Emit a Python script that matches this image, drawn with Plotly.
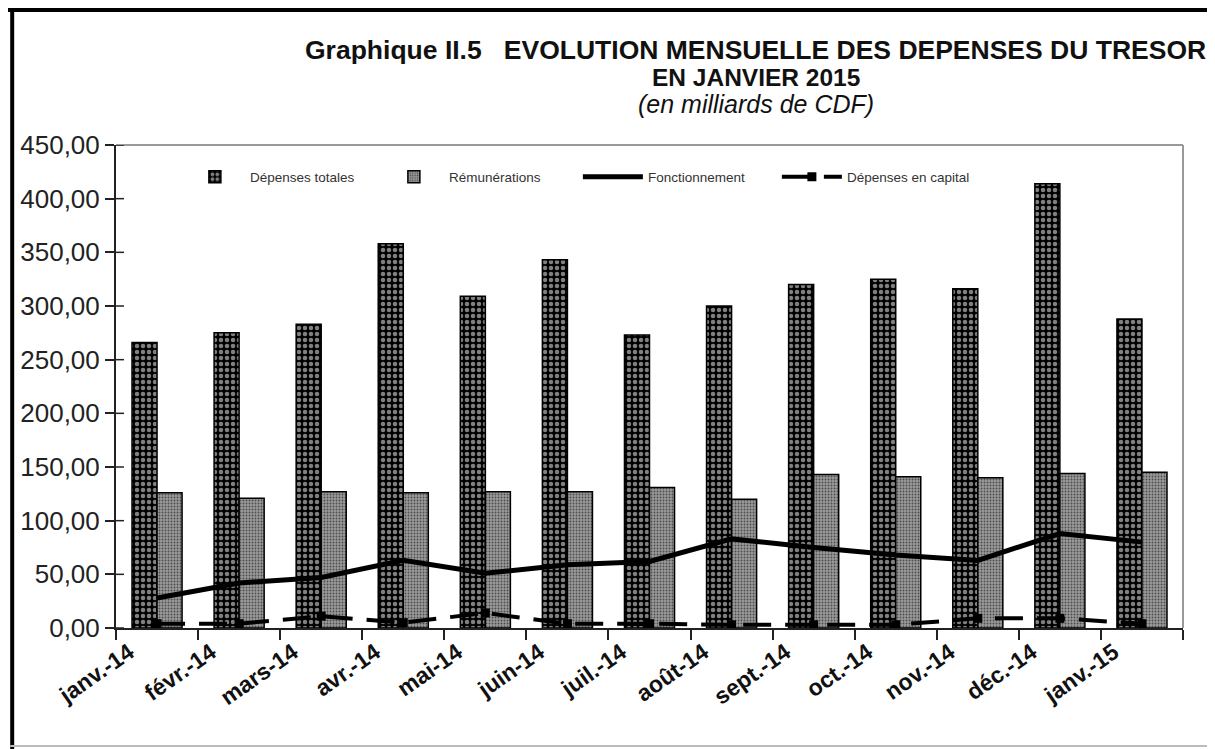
import plotly.graph_objects as go

months = ["janv.-14", "févr.-14", "mars-14", "avr.-14", "mai-14", "juin-14", "juil.-14",
          "août-14", "sept.-14", "oct.-14", "nov.-14", "déc.-14", "janv.-15"]
depenses_totales = [266, 275, 283, 358, 309, 343, 273, 300, 320, 325, 316, 414, 288]
remunerations = [126, 121, 127, 126, 127, 127, 131, 120, 143, 141, 140, 144, 145]
fonctionnement = [28, 42, 47, 63, 51, 59, 62, 83, 75, 68, 63, 88, 80]
depenses_capital = [4, 4, 11, 5, 14, 4, 4, 3, 3, 3, 9, 9, 4]
y_ticks = [0, 50, 100, 150, 200, 250, 300, 350, 400, 450]
y_tick_labels = ["0,00", "50,00", "100,00", "150,00", "200,00", "250,00", "300,00",
                 "350,00", "400,00", "450,00"]

OFF = 8  # default body margin of the html page
W, H = 1215 - OFF, 749 - OFF
L, T = 114 - OFF, 145 - OFF
R = W - (1183 - OFF)
B = H - (628 - OFF)
PW, PH = W - L - R, H - T - B

def px2x(px):
    return (px - OFF - L) / PW

def px2y(py):
    return (H - B - (py - OFF)) / PH

fig = go.Figure()
fig.add_trace(go.Bar(
    x=months, y=depenses_totales, name="Dépenses totales",
    marker=dict(color="black", line=dict(color="black", width=1.5),
                pattern=dict(shape=".", fgcolor="white", size=6, solidity=0.45,
                             fillmode="overlay")),
))
fig.add_trace(go.Bar(
    x=months, y=remunerations, name="Rémunérations",
    marker=dict(color="#9a9a9a", line=dict(color="black", width=1.5),
                pattern=dict(shape=".", fgcolor="black", size=3, solidity=0.3,
                             fillmode="overlay")),
))
fig.add_trace(go.Scatter(
    x=months, y=fonctionnement, name="Fonctionnement", mode="lines",
    line=dict(color="black", width=5),
))
fig.add_trace(go.Scatter(
    x=months, y=depenses_capital, name="Dépenses en capital", mode="lines+markers",
    line=dict(color="black", width=4, dash="28px,14px"),
    marker=dict(symbol="square", size=9, color="black"),
))

font_main = "Liberation Sans, Arial, sans-serif"

annotations = [
    dict(text="<b>Graphique II.5   EVOLUTION MENSUELLE DES DEPENSES DU TRESOR</b>",
         x=px2x(755), y=px2y(50), font=dict(size=26.5, family=font_main, color="#111")),
    dict(text="<b>EN JANVIER 2015</b>",
         x=px2x(755), y=px2y(77), font=dict(size=24.5, family=font_main, color="#111")),
    dict(text="<i>(en milliards de CDF)</i>",
         x=px2x(755), y=px2y(104), font=dict(size=25, family=font_main, color="#111")),
]
for a in annotations:
    a.update(xref="paper", yref="paper", xanchor="center", yanchor="middle", showarrow=False)

shapes = [
    # outer frame
    dict(type="rect", xref="paper", yref="paper", x0=px2x(0), x1=px2x(1215),
         y0=px2y(8), y1=px2y(12), fillcolor="black", line=dict(width=0)),
    dict(type="rect", xref="paper", yref="paper", x0=px2x(8), x1=px2x(12),
         y0=px2y(8), y1=px2y(749), fillcolor="black", line=dict(width=0)),
    dict(type="line", xref="paper", yref="paper", x0=px2x(1212), x1=px2x(1212),
         y0=px2y(8), y1=px2y(746), line=dict(color="#222", width=2)),
    dict(type="line", xref="paper", yref="paper", x0=px2x(8), x1=px2x(1213),
         y0=px2y(746), y1=px2y(746), line=dict(color="#bbb", width=2)),
    # plot area top/right border
    dict(type="line", xref="paper", yref="paper", x0=0, x1=1, y0=1, y1=1,
         line=dict(color="#999", width=2)),
    dict(type="line", xref="paper", yref="paper", x0=1, x1=1, y0=0, y1=1,
         line=dict(color="#999", width=2)),
]
# inner half of the crossing y ticks
for v in y_ticks:
    shapes.append(dict(type="line", xref="paper", yref="y", x0=0, x1=8 / PW, y0=v, y1=v,
                       line=dict(color="#222", width=1.5)))

fig.update_layout(
    width=W, height=H,
    margin=dict(l=L, r=R, t=T, b=B, pad=0),
    paper_bgcolor="white", plot_bgcolor="white",
    barmode="group", bargap=0.39, bargroupgap=0,
    showlegend=True,
    legend=dict(orientation="h", x=px2x(178), y=px2y(177), xanchor="left", yanchor="middle",
                font=dict(size=13.5, family=font_main, color="#333"),
                itemwidth=60, entrywidth=124, bgcolor="rgba(0,0,0,0)", traceorder="normal"),
    annotations=annotations,
    shapes=shapes,
    xaxis=dict(showgrid=False, showline=True, linecolor="#222", linewidth=2,
               ticks="outside", ticklen=10, tickcolor="#222", tickwidth=1.5,
               tickson="boundaries", tickangle=-35, ticklabelshift=-28,
               tickfont=dict(size=23, family=font_main, color="#111", weight="bold"),
               range=[-0.5, 12.5]),
    yaxis=dict(range=[0, 450], showgrid=False, showline=True, linecolor="#222", linewidth=2,
               tickvals=y_ticks, ticktext=y_tick_labels, ticks="outside", ticklen=9,
               tickcolor="#222", tickwidth=1.5,
               tickfont=dict(size=26, family=font_main, color="#222"), zeroline=False),
)

fig.write_html("out.html")
